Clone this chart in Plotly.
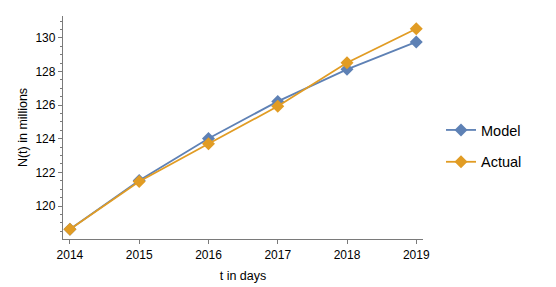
import plotly.graph_objects as go

years = [2014, 2015, 2016, 2017, 2018, 2019]
model = [118.62, 121.52, 124.02, 126.22, 128.13, 129.76]
actual = [118.62, 121.46, 123.70, 125.93, 128.52, 130.54]
y_ticks = [120, 122, 124, 126, 128, 130]

BLUE = "#5E81B5"
ORANGE = "#E19C24"
AXIS = "#7a7a7a"
FONT = "Liberation Sans, Arial, sans-serif"

fig = go.Figure()
fig.add_trace(go.Scatter(x=years, y=model, mode="lines+markers", name="Model",
                         line=dict(color=BLUE, width=1.8),
                         marker=dict(symbol="diamond", size=10, color=BLUE),
                         legendgroup="a"))
fig.add_trace(go.Scatter(x=years, y=actual, mode="lines+markers", name="Actual",
                         line=dict(color=ORANGE, width=1.8),
                         marker=dict(symbol="diamond", size=10, color=ORANGE),
                         legendgroup="b"))

# page body has an 8px margin, so the figure is drawn 8px smaller and offset
fig.update_layout(
    width=548, height=279,
    margin=dict(l=55, r=133, t=8, b=48, autoexpand=False),
    paper_bgcolor="white", plot_bgcolor="white",
    font=dict(family=FONT, size=12, color="black"),
    showlegend=True,
    legend=dict(x=1.05, y=0.417, xanchor="left", yanchor="middle",
                font=dict(size=14.5), traceorder="grouped", tracegroupgap=10,
                bgcolor="rgba(0,0,0,0)"),
    xaxis=dict(range=[2013.9, 2019.097], tickvals=years, ticktext=[str(y) for y in years],
               showgrid=False, zeroline=False, showline=True, linecolor=AXIS, linewidth=1.3,
               ticks="outside", ticklen=4, tickcolor=AXIS, tickfont=dict(size=12),
               automargin=False,
               title=dict(text="t in days", font=dict(size=12.5), standoff=10)),
    yaxis=dict(range=[118.04, 131.3], tickvals=y_ticks,
               showgrid=False, zeroline=False, showline=True, linecolor=AXIS, linewidth=1.3,
               ticks="outside", ticklen=4, tickcolor=AXIS, tickfont=dict(size=12),
               automargin=False,
               minor=dict(dtick=0.5, tick0=120, ticks="outside", ticklen=2, tickcolor=AXIS),
               title=dict(text="N(t) in millions", font=dict(size=12.5), standoff=5)),
)

fig.write_html("out.html")
